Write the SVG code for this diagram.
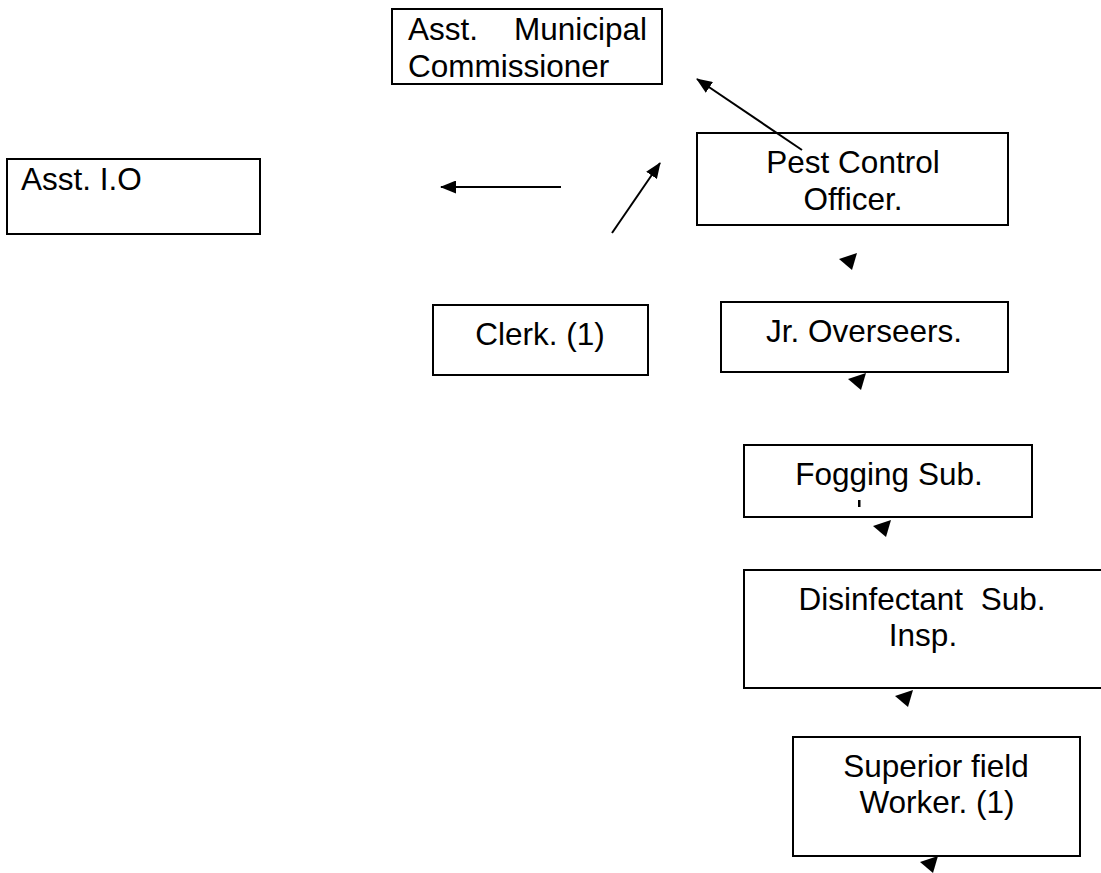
<svg xmlns="http://www.w3.org/2000/svg" width="1101" height="873" viewBox="0 0 1101 873">
<defs>
<style>
.box{fill:#fff;stroke:#000;stroke-width:2}
.t{font-family:"Liberation Sans",Arial,sans-serif;font-size:31.5px;fill:#000;white-space:pre}
.c{text-anchor:middle}
.ln{stroke:#000;stroke-width:2;fill:none}
.ah{fill:#000}
</style>
<marker id="arr" viewBox="0 0 16 13" refX="15" refY="6.5" markerWidth="16" markerHeight="13" markerUnits="userSpaceOnUse" orient="auto">
<path d="M0,0 L16,6.5 L0,13 z" fill="#000"/>
</marker>
<path id="head" d="M0,0 L-13,-11 L5,-17 z"/>
</defs>
<rect width="1101" height="873" fill="#fff"/>
<g id="asst-municipal-commissioner">
<rect class="box" x="392" y="9" width="270" height="75"/>
<text class="t" x="408" y="40">Asst.</text>
<text class="t" x="647" y="40" text-anchor="end">Municipal</text>
<text class="t" x="408" y="77">Commissioner</text>
</g>
<g id="asst-io">
<rect class="box" x="7" y="159" width="253" height="75"/>
<text class="t" x="21" y="190">Asst. I.O</text>
</g>
<g id="pest-control-officer">
<rect class="box" x="697" y="133" width="311" height="92"/>
<text class="t c" x="853" y="173">Pest Control</text>
<text class="t c" x="853" y="210">Officer.</text>
</g>
<g id="clerk">
<rect class="box" x="433" y="305" width="215" height="70"/>
<text class="t c" x="540" y="345">Clerk. (1)</text>
</g>
<g id="jr-overseers">
<rect class="box" x="721" y="302" width="287" height="70"/>
<text class="t c" x="864" y="342">Jr. Overseers.</text>
</g>
<g id="fogging-sub">
<rect class="box" x="744" y="445" width="288" height="72"/>
<text class="t c" x="889" y="485">Fogging Sub.</text>
<rect x="858" y="500" width="2.5" height="7" fill="#000"/>
</g>
<g id="disinfectant-sub-insp">
<rect class="box" x="744" y="570" width="362" height="118"/>
<text class="t c" x="922" y="610" xml:space="preserve">Disinfectant  Sub.</text>
<text class="t c" x="923" y="646">Insp.</text>
</g>
<g id="superior-field-worker">
<rect class="box" x="793" y="737" width="287" height="119"/>
<text class="t c" x="936" y="777">Superior field</text>
<text class="t c" x="937" y="813">Worker. (1)</text>
</g>
<g id="connectors">
<line class="ln" x1="802" y1="150" x2="697" y2="79" marker-end="url(#arr)"/>
<line class="ln" x1="561" y1="187" x2="441" y2="187" marker-end="url(#arr)"/>
<line class="ln" x1="612" y1="233" x2="660" y2="163" marker-end="url(#arr)"/>
<use href="#head" class="ah" x="852" y="270"/>
<use href="#head" class="ah" x="861" y="390"/>
<use href="#head" class="ah" x="886" y="537"/>
<use href="#head" class="ah" x="908" y="707"/>
<use href="#head" class="ah" x="933" y="873"/>
</g>
</svg>
